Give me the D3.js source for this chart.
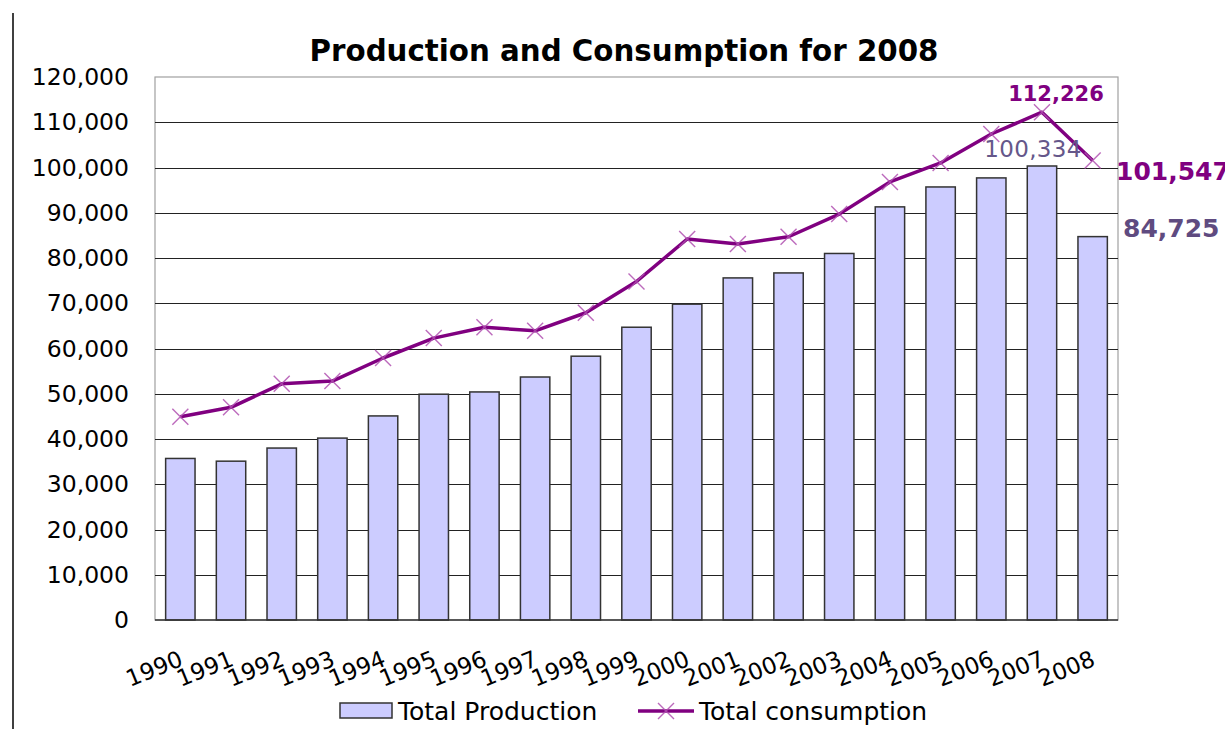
<!DOCTYPE html>
<meta charset="utf-8">
<head>
<style>
  body { margin: 0; background: #fff; }
  svg text { font-family: "DejaVu Sans", Verdana, sans-serif; }
</style>
</head>
<body>
<svg id="chart" width="1225" height="729"></svg>
<script src="https://d3js.org/d3.v7.min.js"></script>
<script>
// data
var years = ["1990","1991","1992","1993","1994","1995","1996","1997","1998","1999",
             "2000","2001","2002","2003","2004","2005","2006","2007","2008"];
var production = [35700, 35100, 38000, 40200, 45100, 49900, 50400, 53700, 58300, 64700,
                  69800, 75600, 76700, 81000, 91300, 95700, 97700, 100334, 84725];
var consumption = [44900, 47000, 52200, 52800, 57900, 62300, 64700, 63900, 67900, 74800,
                   84200, 83100, 84700, 89700, 96800, 101000, 107400, 112226, 101547];
var yTicks = [0, 10000, 20000, 30000, 40000, 50000, 60000, 70000, 80000, 90000, 100000, 110000, 120000];

var svg = d3.select("#chart");
var plotL = 155, plotR = 1118, plotT = 77, plotB = 620;

var x = d3.scaleBand().domain(years).range([plotL, plotR]).paddingInner(0.42).paddingOuter(0.21);
var y = d3.scaleLinear().domain([0, 120000]).range([plotB, plotT]);
var fmt = d3.format(",");

// outer left rule
svg.append("line").attr("x1", 13).attr("x2", 13).attr("y1", 13).attr("y2", 729)
   .attr("stroke", "#000").attr("stroke-width", 1.5);

// title
svg.append("text").attr("x", 624).attr("y", 61).attr("text-anchor", "middle")
   .attr("font-size", 29.3).attr("font-weight", "bold").text("Production and Consumption for 2008");

// plot frame
svg.append("rect").attr("x", plotL).attr("y", plotT).attr("width", plotR - plotL).attr("height", plotB - plotT)
   .attr("fill", "none").attr("stroke", "#a0a0a0").attr("stroke-width", 1.2);

// gridlines
svg.append("g").selectAll("line").data(yTicks.filter(d => d > 0 && d < 120000)).join("line")
   .attr("x1", plotL).attr("x2", plotR)
   .attr("y1", d => Math.round(y(d)) + 0.5).attr("y2", d => Math.round(y(d)) + 0.5)
   .attr("stroke", "#222").attr("stroke-width", 1);

// y axis labels
var yAxis = svg.append("g").attr("transform", "translate(" + plotL + ",0)")
   .call(d3.axisLeft(y).tickValues(yTicks).tickFormat(fmt).tickSize(0).tickPadding(26));
yAxis.select(".domain").remove();
yAxis.selectAll("text").attr("font-size", 23.5).attr("fill", "#000")
   .attr("font-family", "DejaVu Sans, Verdana, sans-serif");

// bars
svg.append("g").selectAll("rect").data(years).join("rect")
   .attr("x", d => x(d))
   .attr("y", (d, i) => y(production[i]))
   .attr("width", x.bandwidth())
   .attr("height", (d, i) => plotB - y(production[i]))
   .attr("fill", "#ccccff").attr("stroke", "#333").attr("stroke-width", 1.5);

// baseline
svg.append("line").attr("x1", plotL).attr("x2", plotR).attr("y1", plotB).attr("y2", plotB)
   .attr("stroke", "#333").attr("stroke-width", 1.5);

// consumption line
var cx = d => x(d) + x.bandwidth() / 2;
var line = d3.line().x((d, i) => cx(years[i])).y(d => y(d));
svg.append("path").datum(consumption).attr("d", line)
   .attr("fill", "none").attr("stroke", "#800080").attr("stroke-width", 3.5).attr("stroke-linejoin", "round");

var m = 8;
svg.append("g").selectAll("path").data(consumption).join("path")
   .attr("d", (d, i) => {
     var px = cx(years[i]), py = y(d);
     return "M" + (px - m) + "," + (py - m) + "L" + (px + m) + "," + (py + m) +
            "M" + (px - m) + "," + (py + m) + "L" + (px + m) + "," + (py - m);
   })
   .attr("stroke", "#b050b0").attr("stroke-width", 1.4).attr("fill", "none").attr("opacity", 0.85);

// x labels
svg.append("g").selectAll("text").data(years).join("text")
   .attr("transform", d => "translate(" + (cx(d) + 4) + ",665) rotate(-22)")
   .attr("text-anchor", "end").attr("font-size", 23).text(d => d);

// value labels
var n = years.length - 1;
svg.append("text").attr("x", cx(years[n - 1]) + 14).attr("y", 101).attr("text-anchor", "middle")
   .attr("font-size", 21).attr("font-weight", "bold").attr("fill", "#800080").text(fmt(consumption[n - 1]));
svg.append("text").attr("x", cx(years[n - 1]) - 9).attr("y", 157).attr("text-anchor", "middle")
   .attr("font-size", 23).attr("letter-spacing", 0.3).attr("fill", "#65578a").text(fmt(production[n - 1]));
svg.append("text").attr("x", 1116).attr("y", 180)
   .attr("font-size", 25).attr("font-weight", "bold").attr("fill", "#800080").text(fmt(consumption[n]));
svg.append("text").attr("x", 1123).attr("y", 237)
   .attr("font-size", 25).attr("font-weight", "bold").attr("fill", "#5f4b80").text(fmt(production[n]));

// legend
var lg = svg.append("g");
lg.append("rect").attr("x", 340).attr("y", 703).attr("width", 52).attr("height", 15)
  .attr("fill", "#ccccff").attr("stroke", "#333").attr("stroke-width", 1.5);
lg.append("text").attr("x", 398).attr("y", 720).attr("font-size", 25).text("Total Production");
lg.append("line").attr("x1", 638).attr("x2", 694).attr("y1", 711).attr("y2", 711)
  .attr("stroke", "#800080").attr("stroke-width", 3.5);
lg.append("path").attr("d", "M658,703L674,719M658,719L674,703")
  .attr("stroke", "#b050b0").attr("stroke-width", 1.4).attr("opacity", 0.85);
lg.append("text").attr("x", 699).attr("y", 720).attr("font-size", 25).text("Total consumption");
</script>
</body>
